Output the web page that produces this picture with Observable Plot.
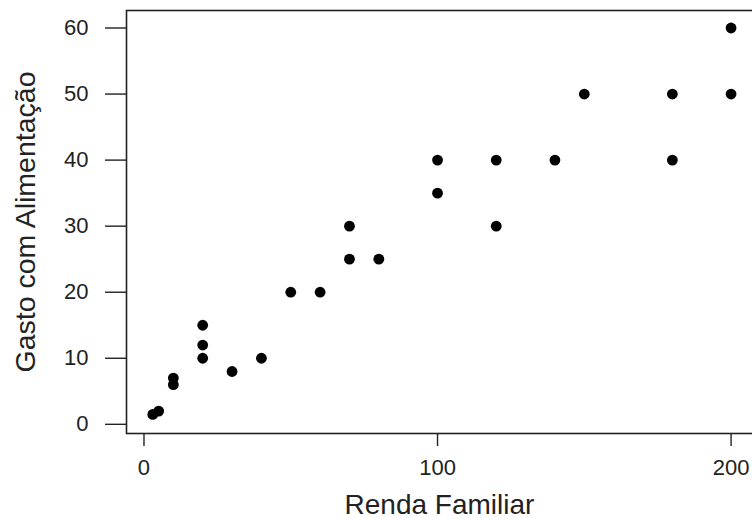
<!DOCTYPE html>
<html><head><meta charset="utf-8">
<script src="https://cdn.jsdelivr.net/npm/d3@7"></script>
<script src="https://cdn.jsdelivr.net/npm/@observablehq/plot@0.6"></script>
<style>
body{margin:0;background:#fff;}
#chart svg{display:block;}
#chart g[aria-label="x-axis label"] text{font-size:28px;}
#chart g[aria-label="y-axis label"] text{font-size:28.5px;}
</style></head><body><div id="chart"></div>
<script>
const renda = [200, 150, 180, 200, 100, 120, 140, 180, 100, 70, 120, 70, 80, 50, 60, 20, 20, 20, 30, 40, 10, 10, 3, 5];
const gasto = [60, 50, 50, 50, 40, 40, 40, 40, 35, 30, 30, 25, 25, 20, 20, 15, 12, 10, 8, 10, 7, 6, 1.5, 2];
const xTicks = [0, 100, 200];
const yTicks = [0, 10, 20, 30, 40, 50, 60];
const xLabel = "Renda Familiar";
const yLabel = "Gasto com Alimentação";

const data = renda.map((r, i) => ({renda: r, gasto: gasto[i]}));

const plot = Plot.plot({
  width: 752, height: 518,
  marginLeft: 126, marginTop: 10, marginBottom: 85, marginRight: 0,
  style: {fontFamily: "'Liberation Sans', Arial, sans-serif", fontSize: "22px", color: "#222", background: "#fff"},
  x: {domain: [-5.96, 207.3]},
  y: {domain: [-1.39, 62.65]},
  marks: [
    Plot.frame({stroke: "#222", strokeWidth: 1.6, insetRight: -6}),
    Plot.axisX({ticks: xTicks, tickSize: 13, tickPadding: 13, tickFormat: d => String(d),
      label: xLabel, labelAnchor: "center", labelOffset: 80, labelArrow: false,
      stroke: "#222", strokeWidth: 1.4, fill: "#222"}),
    Plot.axisY({ticks: yTicks, tickSize: 21, tickPadding: 17, tickFormat: d => String(d),
      label: yLabel, labelAnchor: "center", labelOffset: 112, labelArrow: false,
      stroke: "#222", strokeWidth: 1.4, fill: "#222"}),
    Plot.dot(data, {x: "renda", y: "gasto", r: 5.4, fill: "#000"})
  ]
});
document.getElementById("chart").appendChild(plot);
</script></body></html>
